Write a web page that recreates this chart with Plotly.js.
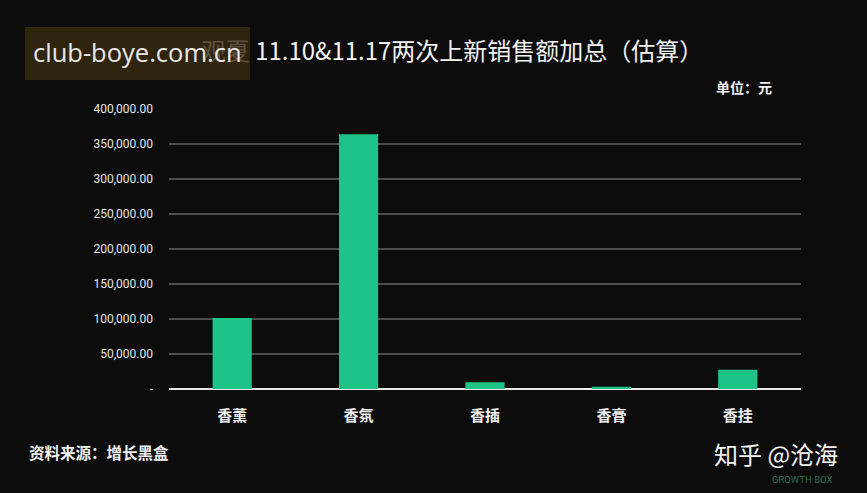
<!DOCTYPE html>
<html>
<head>
<meta charset="utf-8">
<script src="https://cdn.plot.ly/plotly-3.0.1.min.js"></script>
<style>
html,body{margin:0;padding:0;background:#0c0c0c;}
#chart{width:867px;height:493px;}
</style>
</head>
<body>
<div id="chart"></div>
<script>
var categories = ['香薰', '香氛', '香插', '香膏', '香挂'];
var salesValues = [101500, 364000, 9500, 3300, 27500];
var yTickVals = [0, 50000, 100000, 150000, 200000, 250000, 300000, 350000, 400000];
var yTickText = ['-', '50,000.00', '100,000.00', '150,000.00', '200,000.00', '250,000.00', '300,000.00', '350,000.00', '400,000.00'];

var cjk = '"Noto Sans CJK SC", "Noto Sans", sans-serif';

var trace = {
  type: 'bar',
  x: categories,
  y: salesValues,
  marker: {color: '#1ec387'},
  width: 0.31,
  hoverinfo: 'x+y'
};

var layout = {
  width: 867,
  height: 493,
  paper_bgcolor: '#0c0c0c',
  plot_bgcolor: '#0c0c0c',
  margin: {l: 169, r: 66, t: 109, b: 104},
  showlegend: false,
  title: {
    text: '<span style="color:#5e5240">观夏</span> 11.10&11.17两次上新销售额加总（估算）',
    font: {family: cjk, size: 24, color: '#f2f2f2'},
    x: 0.522, xref: 'container', xanchor: 'center',
    y: 0.895, yref: 'container', yanchor: 'middle'
  },
  xaxis: {
    type: 'category',
    showgrid: false,
    showline: false,
    zeroline: false,
    ticks: '',
    ticklabelstandoff: 16,
    tickfont: {family: cjk, size: 15, color: '#f0f0f0', weight: 'bold'}
  },
  yaxis: {
    range: [0, 400000],
    tickvals: yTickVals,
    ticktext: yTickText,
    showgrid: true,
    gridcolor: '#4d4d4d',
    gridwidth: 1.5,
    zeroline: true,
    zerolinecolor: '#e8e8e8',
    zerolinewidth: 2,
    showline: false,
    ticks: '',
    ticklabelstandoff: 15,
    tickfont: {family: 'Roboto, sans-serif', size: 12, color: '#e6e6e6'},
    fixedrange: true
  },
  shapes: [
    {type: 'rect', xref: 'paper', yref: 'paper', x0: -0.228, x1: 0.128, y0: 1.293, y1: 1.104,
     fillcolor: 'rgba(52,40,14,0.88)', line: {width: 0}, layer: 'above'}
  ],
  annotations: [
    {text: '单位：元', xref: 'paper', yref: 'paper', x: 0.958, y: 1.08, xanchor: 'right', yanchor: 'middle',
     showarrow: false, font: {family: cjk, size: 14, color: '#f0f0f0', weight: 'bold'}},
    {text: '资料来源：增长黑盒', xref: 'paper', yref: 'paper', x: -0.225, y: -0.225, xanchor: 'left', yanchor: 'middle',
     showarrow: false, font: {family: cjk, size: 15.5, color: '#f0f0f0', weight: 'bold'}},
    {text: '知乎 @沧海', xref: 'paper', yref: 'paper', x: 1.062, y: -0.232, xanchor: 'right', yanchor: 'middle',
     showarrow: false, font: {family: cjk, size: 24, color: '#f4f4f4'}},
    {text: 'GROWTH BOX', xref: 'paper', yref: 'paper', x: 1.003, y: -0.322, xanchor: 'center', yanchor: 'middle',
     showarrow: false, font: {family: 'Roboto, sans-serif', size: 9.5, color: '#2f6e55'}},
    {text: 'club-boye.com.cn', xref: 'paper', yref: 'paper', x: -0.05, y: 1.204, xanchor: 'center', yanchor: 'middle',
     showarrow: false, font: {family: '"Open Sans", sans-serif', size: 25.5, color: '#e8e8e8'}}
  ]
};

Plotly.newPlot('chart', [trace], layout, {displayModeBar: false, staticPlot: true});
</script>
</body>
</html>
